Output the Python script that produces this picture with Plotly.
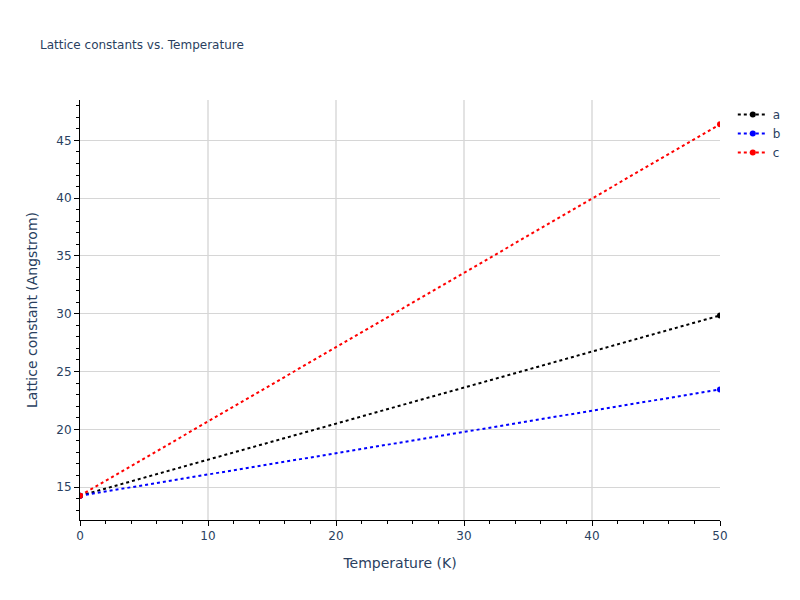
import plotly.graph_objects as go

temperature = [0, 50]
a_vals = [14.25, 29.85]
b_vals = [14.25, 23.45]
c_vals = [14.25, 46.4]
series_names = ["a", "b", "c"]
series_colors = ["black", "blue", "red"]

fig = go.Figure()
for name, vals, col in zip(series_names, [a_vals, b_vals, c_vals], series_colors):
    fig.add_trace(go.Scatter(x=temperature, y=vals, mode="lines+markers", name=name,
                             line=dict(color=col, dash="dot", width=2),
                             marker=dict(color=col, size=6)))

fig.update_layout(
    template="plotly_white",
    width=792, height=584,
    font=dict(family="Verdana, DejaVu Sans, sans-serif"),
    margin=dict(l=72, r=80, t=92, b=72),
    title=dict(text="Lattice constants vs. Temperature", font=dict(size=12),
               x=0.0404, y=0.9366, yanchor="middle"),
    xaxis=dict(title="Temperature (K)", range=[0, 50], showline=True, linecolor="black",
               ticks="outside", tickcolor="black", gridcolor="#e3e3e3", gridwidth=2, zeroline=False,
               minor=dict(ticks="outside", dtick=2, tickcolor="black")),
    yaxis=dict(title="Lattice constant (Angstrom)", range=[12.15, 48.5], showline=True, linecolor="black",
               ticks="outside", tickcolor="black", gridcolor="#d6d6d6", gridwidth=1, zeroline=False,
               minor=dict(ticks="outside", dtick=1, tickcolor="black")),
)
fig.write_html("out.html")
